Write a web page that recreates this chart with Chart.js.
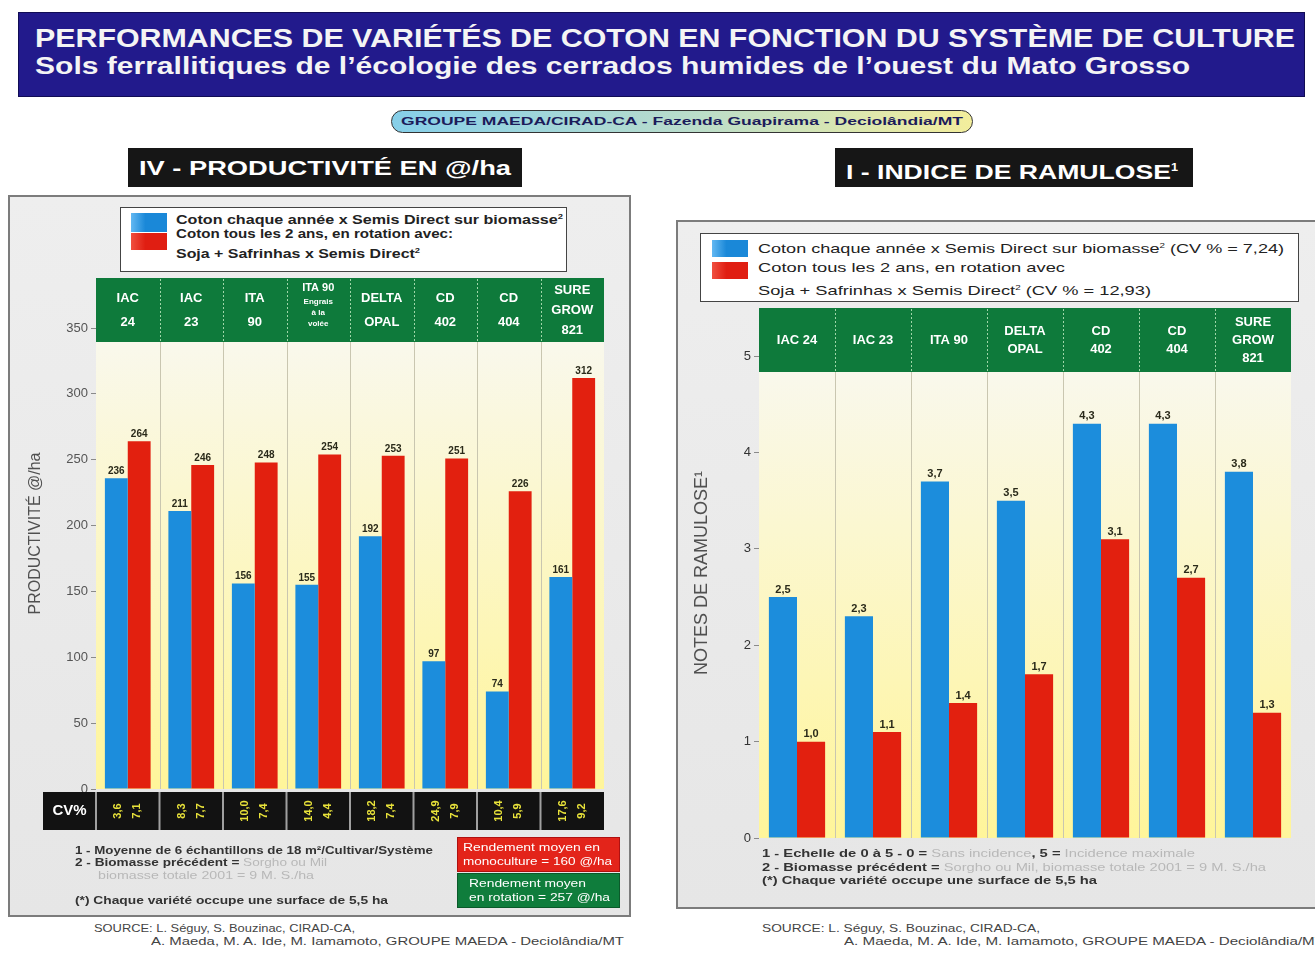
<!DOCTYPE html>
<html lang="fr">
<head>
<meta charset="utf-8">
<script src="https://cdn.jsdelivr.net/npm/chart.js@4.4.1/dist/chart.umd.min.js"></script>
<style>
  body { margin:0; width:1315px; height:956px; position:relative; overflow:hidden; background:#fff;
         font-family:"Liberation Sans", Arial, sans-serif; color:#222; }
  .abs { position:absolute; white-space:nowrap; }
  .panel { position:absolute; background:linear-gradient(#eeeeee,#e6e6e6); border:2px solid #7c7c7c; box-sizing:border-box; }
  .legend { position:absolute; background:#fff; border:1.5px solid #444; box-sizing:border-box; }
  .sw { position:absolute; }
  .blue { background:linear-gradient(90deg,#62b8f2,#1a88d8 40%,#1a88d8); }
  .red { background:linear-gradient(90deg,#f05040,#e01e12 40%,#e01e12); }
  .note { font-family:"Liberation Sans Narrow","Liberation Sans",Arial,sans-serif; font-size:11px; line-height:12px; color:#333; font-weight:bold; }
  .grey { color:#b8b8b8; font-weight:normal; }
  canvas { position:absolute; }
</style>
</head>
<body>

<!-- bandeau titre -->
<div class="abs" style="left:18px;top:12px;width:1287px;height:85px;background:#221a8c;border:1px solid #110c55;box-sizing:border-box"></div>
<div class="abs" style="left:35px;top:25px;font:bold 25px/26px 'Liberation Sans',Arial;color:#f4f4f4"><span data-w="1260">PERFORMANCES DE VARIÉTÉS DE COTON EN FONCTION DU SYSTÈME DE CULTURE</span></div>
<div class="abs" style="left:35px;top:54px;font:bold 23px/25px 'Liberation Sans',Arial;color:#f4f4f4"><span data-w="1155">Sols ferrallitiques de l’écologie des cerrados humides de l’ouest du Mato Grosso</span></div>

<div class="abs" style="left:391px;top:110px;width:582px;height:23px;border:1.5px solid #333;border-radius:12px;box-sizing:border-box;background:linear-gradient(90deg,#86cfe9,#b8dccc 50%,#f3ee9c)"></div>
<div class="abs" style="left:401px;top:115px;font:bold 11px/13px 'Liberation Sans',Arial;color:#1c1c5a"><span data-w="562">GROUPE MAEDA/CIRAD-CA - Fazenda Guapirama - Deciolândia/MT</span></div>

<!-- titres des deux graphiques -->
<div class="abs" style="left:128px;top:148px;width:394px;height:39px;background:#161616"></div>
<div class="abs" style="left:139px;top:156px;font:bold 21px/23px 'Liberation Sans',Arial;color:#fff"><span data-w="372">IV - PRODUCTIVITÉ EN @/ha</span></div>
<div class="abs" style="left:835px;top:148px;width:358px;height:39px;background:#161616"></div>
<div class="abs" style="left:846px;top:156px;font:bold 21px/23px 'Liberation Sans',Arial;color:#fff"><span data-w="332">I - INDICE DE RAMULOSE<sup style="font-size:10px">1</sup></span></div>

<!-- panneau gauche -->
<div class="panel" style="left:8px;top:195px;width:623px;height:722px"></div>
<canvas id="prodChart" width="617" height="718" style="left:10px;top:197px"></canvas>
<div class="legend" style="left:120px;top:207px;width:447px;height:65px"></div>
<div class="sw blue" style="left:131px;top:213px;width:36px;height:19px"></div>
<div class="sw red" style="left:131px;top:233px;width:36px;height:17px"></div>
<div class="abs note" style="left:176px;top:211px;font-size:12px;color:#222"><span data-w="387">Coton chaque année x Semis Direct sur biomasse<sup style="font-size:7px">2</sup></span></div>
<div class="abs note" style="left:176px;top:228px;font-size:12px;color:#222"><span data-w="277">Coton tous les 2 ans, en rotation avec:</span></div>
<div class="abs note" style="left:176px;top:245px;font-size:12px;color:#222"><span data-w="244">Soja + Safrinhas x Semis Direct<sup style="font-size:7px">2</sup></span></div>

<div class="abs note" style="left:75px;top:844px"><span data-w="358">1 - Moyenne de 6 échantillons de 18 m²/Cultivar/Système</span></div>
<div class="abs note" style="left:75px;top:856px"><span data-w="252">2 - Biomasse précédent = <span class="grey">Sorgho ou Mil</span></span></div>
<div class="abs note grey" style="left:98px;top:869px"><span data-w="216">biomasse totale 2001 = 9 M. S./ha</span></div>
<div class="abs note" style="left:75px;top:894px"><span data-w="313">(*) Chaque variété occupe une surface de 5,5 ha</span></div>

<div class="abs" style="left:457px;top:837px;width:163px;height:35px;background:#e3241a;border:1px solid #b01010;box-sizing:border-box"></div>
<div class="abs note" style="left:463px;top:841px;color:#fff;font-weight:normal"><span data-w="137">Rendement moyen en</span></div>
<div class="abs note" style="left:463px;top:855px;color:#fff;font-weight:normal"><span data-w="149">monoculture = 160 @/ha</span></div>
<div class="abs" style="left:457px;top:873px;width:163px;height:35px;background:#0f7d3c;border:1px solid #0a5a2a;box-sizing:border-box"></div>
<div class="abs note" style="left:469px;top:877px;color:#fff;font-weight:normal"><span data-w="117">Rendement moyen</span></div>
<div class="abs note" style="left:469px;top:891px;color:#fff;font-weight:normal"><span data-w="141">en rotation = 257 @/ha</span></div>

<div class="abs note" style="left:94px;top:922px;font-weight:normal;color:#444"><span data-w="261">SOURCE: L. Séguy, S. Bouzinac, CIRAD-CA,</span></div>
<div class="abs note" style="left:151px;top:935px;font-weight:normal;color:#444"><span data-w="473">A. Maeda, M. A. Ide, M. Iamamoto, GROUPE MAEDA - Deciolândia/MT</span></div>

<!-- panneau droit -->
<div class="panel" style="left:676px;top:220px;width:650px;height:689px"></div>
<canvas id="ramChart" width="638" height="687" style="left:677px;top:221px"></canvas>
<div class="legend" style="left:700px;top:233px;width:599px;height:69px"></div>
<div class="sw blue" style="left:712px;top:240px;width:36px;height:17px"></div>
<div class="sw red" style="left:712px;top:262px;width:36px;height:17px"></div>
<div class="abs note" style="left:758px;top:240px;font-size:13px;font-weight:normal;color:#222"><span data-w="526">Coton chaque année x Semis Direct sur biomasse<sup style="font-size:7px">2</sup> (CV % = 7,24)</span></div>
<div class="abs note" style="left:758px;top:262px;font-size:13px;font-weight:normal;color:#222"><span data-w="307">Coton tous les 2 ans, en rotation avec</span></div>
<div class="abs note" style="left:758px;top:282px;font-size:13px;font-weight:normal;color:#222"><span data-w="393">Soja + Safrinhas x Semis Direct<sup style="font-size:7px">2</sup>  (CV % = 12,93)</span></div>

<div class="abs note" style="left:762px;top:847px"><span data-w="433">1 - Echelle de 0 à 5 - 0 = <span class="grey">Sans incidence</span>, 5 = <span class="grey">Incidence maximale</span></span></div>
<div class="abs note" style="left:762px;top:861px"><span data-w="504">2 - Biomasse précédent = <span class="grey">Sorgho ou Mil, biomasse totale 2001 = 9 M. S./ha</span></span></div>
<div class="abs note" style="left:762px;top:874px"><span data-w="335">(*) Chaque variété occupe une surface de 5,5 ha</span></div>

<div class="abs note" style="left:762px;top:922px;font-weight:normal;color:#444"><span data-w="278">SOURCE: L. Séguy, S. Bouzinac, CIRAD-CA,</span></div>
<div class="abs note" style="left:844px;top:935px;font-weight:normal;color:#444"><span data-w="480">A. Maeda, M. A. Ide, M. Iamamoto, GROUPE MAEDA - Deciolândia/MT</span></div>

<script>
// données - productivité (@/ha)
const varietesProd = [['IAC','24'],['IAC','23'],['ITA','90'],['ITA 90','Engrais','à la','volée'],['DELTA','OPAL'],['CD','402'],['CD','404'],['SURE','GROW','821']];
const prodMonoculture = [236, 211, 156, 155, 192, 97, 74, 161];
const prodRotation = [264, 246, 248, 254, 253, 251, 226, 312];
const cvMonoculture = ['3,6', '8,3', '10,0', '14,0', '18,2', '24,9', '10,4', '17,6'];
const cvRotation = ['7,1', '7,7', '7,4', '4,4', '7,4', '7,9', '5,9', '9,2'];
const prodTicks = [0, 50, 100, 150, 200, 250, 300, 350];

// données - indice de ramulose (0 à 5)
const varietesRam = [['IAC 24'],['IAC 23'],['ITA 90'],['DELTA','OPAL'],['CD','402'],['CD','404'],['SURE','GROW','821']];
const ramMonoculture = [2.5, 2.3, 3.7, 3.5, 4.3, 4.3, 3.8];
const ramRotation = [1.0, 1.1, 1.4, 1.7, 3.1, 2.7, 1.3];
const ramTicks = [0, 1, 2, 3, 4, 5];

const BLUE = '#1c8ddc';
const RED = '#e2200f';

// fond jaune, bandeau vert des variétés, valeurs et ligne des CV
const decor = {
  id: 'decor',
  beforeDatasetsDraw(chart, args, o) {
    const {ctx, chartArea: a, scales: {x}} = chart;
    const n = chart.data.labels.length;
    const step = (a.right - a.left) / n;
    ctx.save();
    const g = ctx.createLinearGradient(0, a.top + o.headerHeight, 0, a.bottom);
    g.addColorStop(0, '#f9f8ec');
    g.addColorStop(1, '#fff59a');
    ctx.fillStyle = g;
    ctx.fillRect(a.left, a.top, a.right - a.left, a.bottom - a.top);
    ctx.strokeStyle = '#c9c6b0';
    ctx.lineWidth = 1;
    for (let i = 1; i < n; i++) {
      const xx = Math.round(a.left + i * step) + 0.5;
      ctx.beginPath(); ctx.moveTo(xx, a.top); ctx.lineTo(xx, a.bottom); ctx.stroke();
    }
    // bandeau vert
    ctx.fillStyle = '#0e7a3b';
    ctx.fillRect(a.left, a.top, a.right - a.left, o.headerHeight);
    ctx.strokeStyle = '#9fd6a8';
    ctx.setLineDash([2, 2]);
    for (let i = 1; i < n; i++) {
      const xx = Math.round(a.left + i * step) + 0.5;
      ctx.beginPath(); ctx.moveTo(xx, a.top + 1); ctx.lineTo(xx, a.top + o.headerHeight - 1); ctx.stroke();
    }
    ctx.setLineDash([]);
    ctx.fillStyle = '#ffffff';
    ctx.textAlign = 'center';
    ctx.textBaseline = 'middle';
    const mid = a.top + o.headerHeight / 2;
    chart.data.labels.forEach((lab, i) => {
      const cx = x.getPixelForValue(i);
      if (lab.length > 3) {
        ctx.font = 'bold 11px "Liberation Sans"';
        ctx.fillText(lab[0], cx, a.top + 10);
        ctx.font = 'bold 8px "Liberation Sans"';
        lab.slice(1).forEach((t, k) => ctx.fillText(t, cx, a.top + 24 + k * 11));
        return;
      }
      const lh = lab.length === 3 ? o.lh3 : o.lh2;
      ctx.font = 'bold ' + o.headerFont + 'px "Liberation Sans"';
      lab.forEach((t, k) => ctx.fillText(t, cx, mid + (k - (lab.length - 1) / 2) * lh));
    });
    ctx.restore();
  },
  afterDatasetsDraw(chart, args, o) {
    const {ctx} = chart;
    ctx.save();
    ctx.font = 'bold ' + o.valueFont + 'px "Liberation Sans"';
    ctx.fillStyle = '#2a2a1a';
    ctx.textAlign = 'center';
    ctx.textBaseline = 'bottom';
    chart.data.datasets.forEach((ds, d) => {
      chart.getDatasetMeta(d).data.forEach((bar, i) => {
        ctx.fillText(o.fmt(ds.data[i]), bar.x, bar.y - 2);
      });
    });
    ctx.restore();
  },
  afterDraw(chart, args, o) {
    if (!o.cv) return;
    const {ctx, chartArea: a, scales: {x}} = chart;
    const n = chart.data.labels.length;
    const step = (a.right - a.left) / n;
    const top = a.bottom + 3, h = 38;
    ctx.save();
    ctx.fillStyle = '#121212';
    ctx.fillRect(o.cvLeft, top, a.right - o.cvLeft, h);
    ctx.strokeStyle = '#a0a0a0';
    ctx.lineWidth = 2;
    for (let i = 0; i < n; i++) {
      const xx = a.left + i * step;
      ctx.beginPath(); ctx.moveTo(xx, top); ctx.lineTo(xx, top + h); ctx.stroke();
    }
    ctx.fillStyle = '#ffffff';
    ctx.font = 'bold 15px "Liberation Sans"';
    ctx.textAlign = 'center';
    ctx.textBaseline = 'middle';
    ctx.fillText('CV%', (o.cvLeft + a.left) / 2, top + h / 2);
    ctx.fillStyle = '#e8e23a';
    ctx.font = 'bold 11px "Liberation Sans"';
    o.cv.forEach((vals, s) => {
      vals.forEach((v, i) => {
        const cx = x.getPixelForValue(i) + (s === 0 ? -0.15 : 0.15) * step;
        ctx.save();
        ctx.translate(cx, top + h / 2);
        ctx.rotate(-Math.PI / 2);
        ctx.fillText(v, 0, 0);
        ctx.restore();
      });
    });
    ctx.restore();
  }
};

function yScale(max, ticks, title, titleSize, titlePad, width, tickColor) {
  return {
    min: 0,
    max: max,
    afterBuildTicks: s => { s.ticks = ticks.map(v => ({value: v})); },
    afterFit: s => { s.width = width; },
    border: {display: false},
    grid: {drawOnChartArea: false, drawTicks: true, tickLength: 5, color: '#8a8a8a'},
    ticks: {color: tickColor, font: {size: 13, family: 'Liberation Sans'}, padding: 3},
    title: {display: true, text: title, color: '#505050',
            font: {size: titleSize, family: 'Liberation Sans'}, padding: {top: titlePad, bottom: 0}}
  };
}

const prodChart = new Chart(document.getElementById('prodChart'), {
  type: 'bar',
  data: {
    labels: varietesProd,
    datasets: [
      {label: 'Coton chaque année x Semis Direct sur biomasse', data: prodMonoculture, backgroundColor: BLUE},
      {label: 'Coton tous les 2 ans, en rotation avec Soja + Safrinhas x Semis Direct', data: prodRotation, backgroundColor: RED}
    ]
  },
  options: {
    responsive: false,
    animation: false,
    layout: {padding: {left: 0, right: 23, top: 81, bottom: 126}},
    datasets: {bar: {categoryPercentage: 0.72, barPercentage: 1.0}},
    scales: {
      x: {display: false},
      y: yScale(388, prodTicks, 'PRODUCTIVITÉ @/ha', 16, 16, 86, '#555')
    },
    plugins: {
      legend: {display: false},
      tooltip: {enabled: false},
      decor: {headerHeight: 64, headerFont: 13, lh2: 24, lh3: 20, valueFont: 10,
              fmt: v => String(v), cv: [cvMonoculture, cvRotation], cvLeft: 33}
    }
  },
  plugins: [decor]
});

const ramChart = new Chart(document.getElementById('ramChart'), {
  type: 'bar',
  data: {
    labels: varietesRam,
    datasets: [
      {label: 'Coton chaque année x Semis Direct sur biomasse', data: ramMonoculture, backgroundColor: BLUE},
      {label: 'Coton tous les 2 ans, en rotation avec Soja + Safrinhas x Semis Direct', data: ramRotation, backgroundColor: RED}
    ]
  },
  options: {
    responsive: false,
    animation: false,
    layout: {padding: {left: 0, right: 24, top: 87, bottom: 70}},
    datasets: {bar: {categoryPercentage: 0.74, barPercentage: 1.0}},
    scales: {
      x: {display: false},
      y: yScale(5.5, ramTicks, 'NOTES DE RAMULOSE¹', 18, 14, 82, '#333')
    },
    plugins: {
      legend: {display: false},
      tooltip: {enabled: false},
      decor: {headerHeight: 64, headerFont: 13, lh2: 18, lh3: 18, valueFont: 11,
              fmt: v => v.toFixed(1).replace('.', ','), cv: null}
    }
  },
  plugins: [decor]
});

// ajuste la largeur des textes à celle du document d'origine
document.querySelectorAll('[data-w]').forEach(el => {
  el.style.display = 'inline-block';
  el.style.transformOrigin = 'left center';
  const w = el.getBoundingClientRect().width;
  el.style.transform = 'scaleX(' + (el.dataset.w / w) + ')';
});
</script>
</body>
</html>
